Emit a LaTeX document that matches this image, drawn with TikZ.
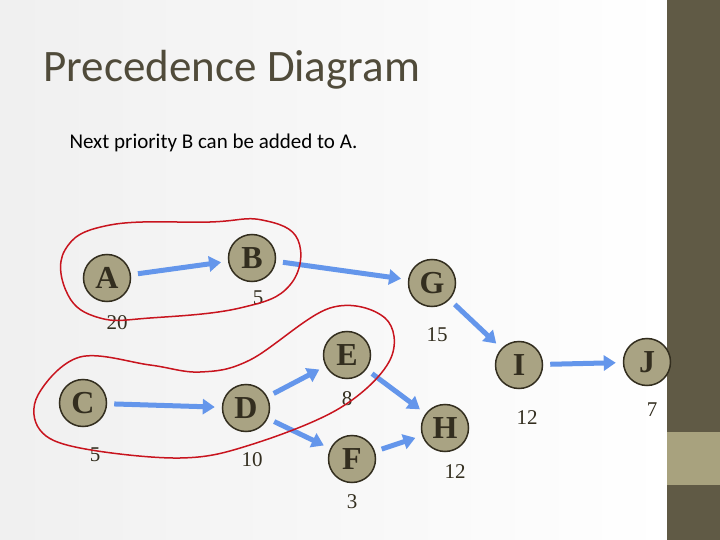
\documentclass[tikz,border=0pt]{standalone}
\usepackage{fontspec}
\setmainfont{Liberation Serif}
\newfontfamily\gill{Carlito}
\usetikzlibrary{arrows.meta}
\definecolor{olivef}{RGB}{169,163,131}
\definecolor{darkt}{RGB}{51,46,31}
\definecolor{titlec}{RGB}{80,75,58}
\definecolor{barc}{RGB}{96,90,69}
\definecolor{boxc}{RGB}{168,162,126}
\definecolor{arrc}{RGB}{100,150,235}
\definecolor{loopc}{RGB}{200,20,30}
\tikzset{
 task/.style={circle,draw=darkt,line width=1.5pt,fill=olivef,minimum size=47pt,inner sep=0pt,font=\fontsize{32}{32}\selectfont\bfseries,text=darkt},
 num/.style={font=\fontsize{21}{21}\selectfont,text=darkt},
 flow/.style={arrc,line width=5pt,-{Triangle[length=12pt,width=15pt]},shorten <=7pt,shorten >=7pt},
 loopl/.style={loopc,line width=1.5pt}
}
\begin{document}
\begin{tikzpicture}[x=1pt,y=-1pt]
\useasboundingbox (0,0) rectangle (720,540);
\shade[left color=gray!12,right color=white] (0,0) rectangle (667,540);
\fill[barc] (667,0) rectangle (720,540);
\fill[boxc] (667,432) rectangle (720,485);
\node[anchor=west,font=\gill\fontsize{45}{45}\selectfont,text=titlec] (title) at (40,70) {Precedence Diagram};
\node[anchor=west,font=\gill\fontsize{21}{21}\selectfont] (sub) at (66,143) {Next priority B can be added to A.};
\node[task] (A) at (107,278) {A};
\node[task] (B) at (252,258) {B};
\node[task] (G) at (432,283) {G};
\node[task] (E) at (347,355) {E};
\node[task] (I) at (519,365) {I};
\node[task] (J) at (647,362) {J};
\node[task] (C) at (83,403) {C};
\node[task] (D) at (246,408) {D};
\node[task] (H) at (445,428) {H};
\node[task] (F) at (352,459) {F};
\node[num] (nA) at (117,323) {20};
\node[num] (nB) at (258,298) {5};
\node[num] (nG) at (437,335) {15};
\node[num] (nE) at (347,399) {8};
\node[num] (nC) at (95,455) {5};
\node[num] (nD) at (252,460) {10};
\node[num] (nF) at (352,502) {3};
\node[num] (nH) at (455,472) {12};
\node[num] (nI) at (527,418) {12};
\node[num] (nJ) at (652,410) {7};
\draw[flow] (A) -- (B);
\draw[flow] (B) -- (G);
\draw[flow] (G) -- (I);
\draw[flow] (C) -- (D);
\draw[flow] (D) -- (E);
\draw[flow] (D) -- (F);
\draw[flow] (E) -- (H);
\draw[flow] (F) -- (H);
\draw[flow] (I) -- (J);
\draw[loopl] plot[smooth cycle,tension=0.7] coordinates {(65,250) (110,225) (210,222) (262,220) (298,240) (290,285) (240,308) (150,318) (100,318) (68,295)};
\draw[loopl] plot[smooth cycle,tension=0.6] coordinates {(38,395) (80,357) (150,365) (200,372) (250,360) (330,308) (385,318) (390,360) (340,408) (250,445) (180,458) (80,448) (40,430)};
\end{tikzpicture}
\end{document}
